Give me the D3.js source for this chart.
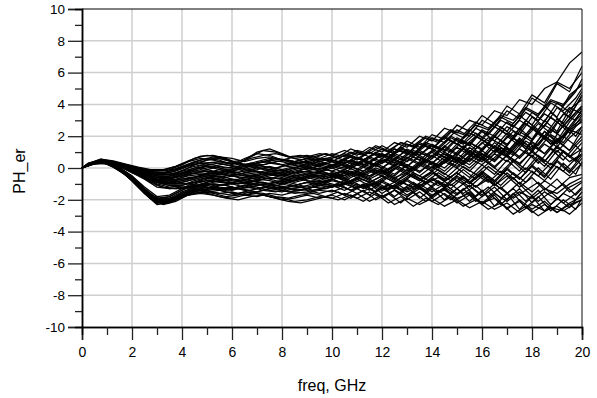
<!DOCTYPE html>
<html>
<head>
<meta charset="utf-8">
<script src="https://cdn.jsdelivr.net/npm/d3@7"></script>
<style>
  body { margin: 0; background: #fff; }
  text { font-family: "Liberation Sans", Arial, sans-serif; fill: #000; }
</style>
</head>
<body>
<svg id="chart" width="597" height="398"></svg>
<script>
// frequency points (GHz): two sweeps, the second one offset by a quarter step
const freq = d3.range(0, 20.01, 0.5);
const freqB = [0].concat(d3.range(0.25, 20, 0.5)).concat([20]);

// sweep A, upper bundle (shallow dip near 3 GHz)
const b1 = [0,0.35,0.4,0.3,0.1,-0.1,-0.2,-0.1,0.2,0.6,0.8,0.7,0.4,0.5,1.0,1.2,0.9,0.6,0.7,0.9,0.8,1.1,0.8,1.3,1.0,1.6,1.3,2.0,1.7,2.5,2.2,3.0,2.7,3.6,3.3,4.3,4.0,5.0,5.4,6.6,7.3];
const b2 = [0,0.3,0.35,0.2,0,-0.3,-0.4,-0.2,0.1,0.4,0.6,0.5,0.2,0.6,0.9,0.8,0.5,0.4,0.6,0.5,0.7,0.5,1.0,0.7,1.2,0.9,1.5,1.2,1.9,1.6,2.4,2.0,3.0,2.6,3.6,3.1,4.4,3.9,5.3,4.8,6.4];
const b3 = [0,0.4,0.45,0.25,-0.1,-0.4,-0.6,-0.5,-0.3,-0.1,0.2,0.3,0.1,-0.1,0.1,0.3,0.2,0,0.3,0.1,0.4,0.1,0.6,0.3,0.9,0.5,1.2,0.8,1.4,1.0,1.8,1.4,2.3,1.7,2.6,2.1,3.2,2.6,3.8,3.2,4.6];
const b4 = [0,0.3,0.3,0.15,-0.2,-0.5,-0.8,-0.9,-0.8,-0.6,-0.3,-0.1,-0.2,-0.4,-0.3,-0.1,-0.2,-0.4,-0.2,-0.3,0,-0.3,0.2,-0.1,0.5,0.1,0.7,0.3,1.0,0.5,1.3,0.8,1.6,1.0,2.0,1.4,2.5,1.8,2.9,2.2,3.3];
const b5 = [0,0.25,0.35,0.2,0,-0.2,-0.3,-0.4,-0.3,0,0.3,0.4,0.3,0.1,0.3,0.5,0.4,0.2,0.5,0.6,0.4,0.8,0.5,1.0,0.6,1.2,0.9,1.6,1.2,2.0,1.5,2.4,1.9,2.8,2.3,3.3,2.7,3.9,3.2,4.6,5.2];
const b6 = [0,0.35,0.3,0.1,-0.3,-0.6,-0.9,-1.0,-0.9,-0.7,-0.5,-0.4,-0.5,-0.7,-0.6,-0.4,-0.6,-0.8,-0.5,-0.7,-0.4,-0.7,-0.3,-0.6,-0.1,-0.5,0.2,-0.3,0.4,0,0.7,0.2,0.9,0.4,1.2,0.6,1.4,0.9,1.7,1.1,2.0];
const b7 = [0,0.3,0.4,0.3,0.05,-0.2,-0.5,-0.6,-0.5,-0.3,-0.1,0.1,0,-0.2,-0.1,0.1,-0.1,-0.3,0,-0.2,0.1,-0.1,0.3,0,0.5,0.2,0.6,0.2,0.8,0.3,0.9,0.4,1.1,0.5,1.3,0.7,1.6,0.9,1.8,1.1,2.4];
const b8 = [0,0.4,0.35,0.2,-0.1,-0.4,-0.7,-0.8,-0.7,-0.6,-0.4,-0.3,-0.5,-0.6,-0.5,-0.3,-0.4,-0.6,-0.4,-0.6,-0.3,-0.6,-0.2,-0.5,-0.2,-0.6,-0.3,-0.7,-0.2,-0.8,-0.3,-0.9,-0.4,-1.1,-0.5,-1.2,-0.6,-1.4,-0.7,-1.5,-0.9];
const b9 = [0,0.3,0.3,0.2,0,-0.3,-0.5,-0.5,-0.2,0.2,0.5,0.6,0.4,0.2,0,-0.1,0.1,0.3,0.2,0.4,0.2,0.5,0.3,0.7,0.4,0.9,0.6,1.1,0.7,1.4,0.9,1.6,1.2,2.0,1.5,2.3,1.8,2.7,2.2,3.1,3.9];
const b10 = [0,0.35,0.4,0.2,-0.2,-0.5,-0.9,-1.1,-1.1,-0.9,-0.8,-0.9,-1.0,-0.9,-0.7,-0.8,-1.0,-0.8,-0.6,-0.8,-0.5,-0.8,-0.4,-0.7,-0.3,-0.7,-0.1,-0.5,0.1,-0.4,0.3,-0.2,0.6,0,0.8,0.2,1.1,0.4,1.4,0.7,1.2];
const b11 = [0,0.25,0.3,0.1,-0.2,-0.6,-1.0,-1.2,-1.1,-0.8,-0.6,-0.4,-0.3,-0.5,-0.4,-0.2,-0.3,-0.1,0.1,-0.1,0.2,0,0.4,0.1,0.6,0.3,0.9,0.5,1.1,0.7,1.5,1.0,1.8,1.3,2.2,1.6,2.6,2.0,3.1,2.4,2.9];
const b12 = [0,0.4,0.45,0.3,0.1,-0.1,-0.3,-0.3,0,0.3,0.5,0.7,0.6,0.4,0.6,0.7,0.5,0.7,0.8,0.6,0.9,0.7,1.1,0.9,1.4,1.0,1.7,1.3,2.1,1.8,2.7,2.3,3.3,2.8,3.9,3.4,4.6,4.1,5.4,5.0,6.0];
const b13 = [0,0.3,0.35,0.15,-0.15,-0.5,-0.8,-0.9,-0.6,-0.3,-0.2,-0.3,-0.1,0.1,0.2,0,-0.2,0,-0.1,0.2,0,0.3,-0.1,0.4,0,0.6,0.1,0.8,0.3,1.0,0.5,1.3,0.7,1.6,1.0,1.9,1.2,2.3,1.6,2.6,3.6];
const b14 = [0,0.35,0.3,0.1,-0.2,-0.6,-1.1,-1.3,-1.2,-1.1,-1.0,-1.2,-1.3,-1.1,-1.0,-1.2,-1.3,-1.1,-0.9,-1.1,-0.8,-1.0,-0.6,-0.9,-0.5,-0.9,-0.4,-0.8,-0.3,-0.8,-0.3,-0.9,-0.2,-0.8,0,-0.7,0.1,-0.6,0.4,-0.3,0.6];
const b15 = [0,0.3,0.4,0.25,0,-0.3,-0.6,-0.7,-0.5,-0.2,0,0.2,0.3,0.2,0.4,0.6,0.5,0.3,0.4,0.2,0.5,0.3,0.7,0.4,0.9,0.6,1.1,0.8,1.5,1.1,1.9,1.5,2.4,2.0,2.9,2.4,3.5,2.9,4.1,3.5,4.8];
const b16 = [0,0.4,0.35,0.2,-0.1,-0.4,-0.8,-1.0,-1.0,-0.9,-0.7,-0.6,-0.8,-0.9,-0.8,-0.6,-0.7,-0.5,-0.3,-0.5,-0.3,-0.5,-0.2,-0.5,0,-0.4,0.2,-0.2,0.3,-0.2,0.5,0,0.7,0.1,0.8,0.3,1.0,0.4,1.3,0.7,1.6];
const b17 = [0,0.3,0.3,0.15,-0.1,-0.5,-0.9,-1.1,-1.2,-1.3,-1.4,-1.3,-1.2,-1.4,-1.5,-1.3,-1.2,-1.4,-1.3,-1.1,-1.2,-1.0,-1.3,-1.0,-1.4,-1.1,-1.5,-1.2,-1.7,-1.4,-1.9,-1.6,-2.2,-1.9,-2.5,-2.1,-2.8,-2.3,-2.8,-2.2,-1.8];
const b18 = [0,0.35,0.4,0.3,0.1,-0.2,-0.4,-0.4,-0.2,0,0.1,0,-0.2,0,0.3,0.4,0.2,0.4,0.6,0.4,0.6,0.9,0.6,1.0,0.7,1.2,0.9,1.5,1.2,1.9,1.5,2.2,1.8,2.6,2.1,3.0,2.5,3.4,2.9,3.8,3.4];
const b19 = [0,0.3,0.3,0.1,-0.3,-0.7,-1.2,-1.3,-1.3,-1.2,-1.0,-0.8,-0.7,-0.9,-1.1,-1.0,-0.8,-1.0,-1.2,-1.0,-1.1,-0.8,-1.2,-0.9,-1.3,-0.9,-1.4,-1.0,-1.5,-1.0,-1.6,-1.1,-1.8,-1.2,-2.0,-1.3,-2.2,-1.5,-2.0,-1.2,-0.8];
const b20 = [0,0.4,0.4,0.2,-0.1,-0.3,-0.5,-0.6,-0.4,-0.2,-0.2,-0.4,-0.5,-0.3,-0.2,-0.4,-0.5,-0.3,-0.2,0,-0.2,0.1,-0.2,0.3,0,0.5,0.1,0.7,0.3,0.9,0.4,1.1,0.6,1.4,0.8,1.7,1.0,2.0,1.3,2.4,2.1];
const b21 = [0,0.3,0.35,0.2,-0.2,-0.5,-0.7,-0.7,-0.4,-0.1,0.1,-0.1,-0.3,-0.2,0,-0.2,-0.4,-0.2,0,0.3,0.1,0.4,0.2,0.6,0.3,0.8,0.4,1.0,0.6,1.3,0.8,1.6,1.1,2.0,1.4,2.5,1.8,3.0,2.3,3.7,4.3];

// sweep A, lower bundle (deep dip near 3 GHz)
const a1 = [0,0.35,0.35,0,-0.6,-1.4,-2.0,-1.9,-1.5,-1.2,-1.1,-1.3,-1.4,-1.2,-1.0,-1.1,-1.3,-1.1,-0.9,-1.0,-0.7,-1.0,-0.6,-0.9,-0.5,-0.9,-0.3,-0.8,-0.2,-0.7,0,-0.6,0.2,-0.4,0.5,-0.2,0.8,0.1,1.1,0.4,0.9];
const a2 = [0,0.4,0.3,-0.1,-0.7,-1.5,-2.2,-2.1,-1.7,-1.4,-1.4,-1.6,-1.7,-1.5,-1.6,-1.8,-1.9,-2.1,-2.0,-1.8,-1.9,-1.6,-1.9,-1.5,-1.9,-1.4,-1.8,-1.3,-1.8,-1.2,-1.7,-1.1,-1.7,-1.0,-1.6,-0.9,-1.5,-0.8,-1.3,-0.6,-0.4];
const a3 = [0,0.3,0.3,-0.1,-0.8,-1.6,-2.3,-2.2,-1.8,-1.5,-1.3,-1.1,-1.0,-1.2,-1.3,-1.1,-0.9,-1.1,-1.3,-1.1,-1.2,-0.9,-1.3,-1.0,-1.6,-1.1,-1.7,-1.2,-1.9,-1.3,-2.0,-1.5,-2.3,-1.7,-2.6,-2.0,-2.6,-2.1,-2.8,-2.3,-2.0];
const a4 = [0,0.35,0.4,0.05,-0.5,-1.3,-1.9,-1.8,-1.4,-1.0,-0.8,-0.7,-0.9,-1.0,-0.8,-0.6,-0.7,-0.9,-0.7,-0.5,-0.6,-0.3,-0.6,-0.2,-0.5,0,-0.4,0.2,-0.2,0.4,0,0.6,0.2,0.9,0.4,1.2,0.7,1.5,1.0,1.9,2.6];
const a5 = [0,0.3,0.25,-0.15,-0.8,-1.6,-2.2,-2.0,-1.6,-1.3,-1.2,-1.4,-1.3,-1.1,-1.2,-1.4,-1.5,-1.3,-1.4,-1.6,-1.4,-1.7,-1.3,-1.7,-1.2,-1.8,-1.2,-1.9,-1.3,-2.0,-1.3,-2.1,-1.4,-2.4,-1.6,-2.6,-1.8,-2.7,-1.9,-2.5,-1.5];
const a6 = [0,0.4,0.35,0,-0.6,-1.3,-2.0,-2.0,-1.7,-1.3,-0.9,-0.6,-0.4,-0.5,-0.7,-0.5,-0.3,-0.5,-0.4,-0.2,-0.4,-0.1,-0.4,0,-0.3,0.2,-0.2,0.4,0,0.7,0.3,1.0,0.5,1.4,0.9,1.8,1.2,2.3,1.7,2.9,3.8];
const a7 = [0,0.35,0.3,-0.1,-0.7,-1.5,-2.1,-2.0,-1.6,-1.4,-1.5,-1.6,-1.5,-1.7,-1.8,-1.6,-1.7,-1.5,-1.6,-1.4,-1.5,-1.2,-1.6,-1.3,-1.8,-1.4,-2.0,-1.5,-2.1,-1.6,-2.2,-1.7,-2.2,-1.6,-2.1,-1.5,-1.9,-1.3,-1.6,-1.0,-0.6];
const a8 = [0,0.3,0.35,0,-0.5,-1.2,-1.8,-1.7,-1.3,-0.9,-0.6,-0.5,-0.7,-0.8,-0.6,-0.4,-0.5,-0.7,-0.5,-0.3,-0.5,-0.2,-0.5,-0.1,-0.4,0.1,-0.3,0.3,-0.1,0.5,0.1,0.8,0.4,1.1,0.7,1.6,1.1,2.0,1.5,2.5,3.1];
const a9 = [0,0.4,0.35,-0.05,-0.7,-1.5,-2.1,-2.1,-1.8,-1.6,-1.5,-1.4,-1.6,-1.7,-1.5,-1.3,-1.4,-1.6,-1.5,-1.3,-1.1,-1.4,-1.0,-1.4,-0.9,-1.3,-0.8,-1.3,-0.7,-1.2,-0.6,-1.2,-0.5,-1.1,-0.3,-1.0,-0.2,-0.8,0.1,-0.5,0.3];
const a10 = [0,0.3,0.3,-0.05,-0.6,-1.4,-2.0,-1.8,-1.4,-1.1,-1.0,-1.1,-0.9,-0.7,-0.9,-1.0,-0.8,-0.6,-0.8,-0.9,-0.7,-1.0,-0.7,-1.1,-0.8,-1.2,-0.7,-1.2,-0.6,-1.1,-0.5,-1.0,-0.3,-0.9,-0.1,-0.7,0.2,-0.5,0.5,-0.2,0.8];
const a11 = [0,0.35,0.3,-0.1,-0.75,-1.55,-2.2,-2.1,-1.7,-1.5,-1.6,-1.8,-1.9,-1.7,-1.6,-1.8,-2.0,-1.9,-1.7,-1.9,-1.7,-2.0,-1.6,-2.1,-1.7,-2.3,-1.9,-2.3,-1.9,-2.4,-2.0,-2.5,-2.1,-2.6,-2.2,-2.8,-2.3,-2.7,-2.4,-2.9,-2.2];

// sweep B (offset frequency points)
const c1 = [0,0.2,0.5,0.4,0.2,-0.1,-0.3,-0.35,-0.2,0.1,0.3,0.35,0.2,0.1,0.2,0.4,0.3,0.1,0.2,0.0,0.3,0.1,0.5,0.2,0.6,0.9,0.5,1.1,0.8,1.3,1.0,1.7,1.2,1.9,1.5,2.3,1.9,2.8,2.2,3.4,3.0,3.7];
const c2 = [0,0.15,0.45,0.3,0.0,-0.4,-0.8,-1.0,-1.0,-0.8,-0.6,-0.7,-0.9,-1.0,-0.8,-0.9,-1.1,-0.9,-0.7,-0.9,-0.8,-0.5,-0.9,-0.6,-1.0,-0.5,-0.9,-0.4,-1.0,-0.6,-1.1,-0.5,-1.2,-0.7,-1.3,-0.6,-1.4,-0.9,-1.6,-1.0,-1.7,-1.3];
const c3 = [0,0.25,0.55,0.45,0.25,0.05,-0.1,-0.1,0.1,0.4,0.6,0.5,0.3,0.3,0.6,0.8,0.9,0.7,0.8,0.6,0.9,0.7,1.2,0.9,1.4,1.1,1.6,1.4,2.0,1.7,2.4,2.1,2.9,2.5,3.3,3.0,3.8,3.4,4.3,4.0,4.9,5.3];
const c4 = [0,0.2,0.45,0.15,-0.35,-1.0,-1.8,-2.2,-2.0,-1.6,-1.3,-1.2,-1.3,-1.2,-1.0,-0.9,-1.1,-1.2,-1.0,-0.8,-0.9,-0.6,-1.0,-0.7,-1.1,-0.6,-1.0,-0.4,-0.9,-0.3,-0.8,-0.1,-0.7,0.1,-0.5,0.4,-0.3,0.6,0.0,1.0,0.4,1.3];
const c5 = [0,0.25,0.4,0.1,-0.4,-1.1,-1.9,-2.3,-2.1,-1.7,-1.5,-1.6,-1.8,-1.7,-1.5,-1.6,-1.8,-1.9,-1.7,-1.6,-1.8,-1.5,-1.9,-1.4,-2.0,-1.6,-2.2,-1.5,-2.1,-1.4,-2.0,-1.3,-2.1,-1.5,-2.3,-1.6,-2.5,-1.8,-2.7,-2.0,-2.6,-1.9];
const c6 = [0,0.2,0.5,0.35,0.1,-0.2,-0.5,-0.7,-0.6,-0.4,-0.3,-0.4,-0.2,0.0,-0.1,-0.3,-0.2,0.0,0.1,-0.1,0.0,0.3,0.0,0.4,0.1,0.5,0.2,0.7,0.3,0.9,0.4,1.2,0.6,1.5,0.9,1.9,1.2,2.2,1.5,2.7,2.0,2.6];
const c7 = [0,0.2,0.45,0.4,0.15,-0.1,-0.25,-0.3,-0.1,0.2,0.5,0.7,0.5,0.3,0.7,1.1,1.0,0.7,0.5,0.7,0.9,0.6,1.0,0.8,1.3,1.0,1.6,1.3,1.9,1.6,2.3,1.9,2.7,2.4,3.2,2.8,3.7,3.3,4.2,3.9,4.8,5.6];
const c8 = [0,0.15,0.4,0.25,-0.05,-0.4,-0.9,-1.2,-1.3,-1.2,-1.1,-1.0,-1.1,-1.3,-1.4,-1.2,-1.1,-1.3,-1.4,-1.2,-1.0,-1.2,-0.9,-1.3,-1.0,-1.4,-0.9,-1.2,-0.7,-1.1,-0.6,-1.0,-0.4,-0.9,-0.2,-0.7,0.0,-0.5,0.3,-0.2,0.6,0.1];
const c9 = [0,0.25,0.5,0.3,0.0,-0.3,-0.6,-0.8,-0.7,-0.5,-0.4,-0.5,-0.6,-0.4,-0.2,-0.3,-0.5,-0.4,-0.2,-0.3,-0.1,-0.3,0.1,-0.2,0.3,-0.1,0.4,0.0,0.5,0.1,0.7,0.2,0.8,0.3,1.0,0.4,1.1,0.3,1.2,0.5,1.4,1.0];
const c10 = [0,0.2,0.4,0.1,-0.4,-1.1,-1.7,-2.0,-1.8,-1.4,-1.0,-0.8,-0.9,-1.0,-0.9,-0.7,-0.6,-0.8,-0.7,-0.5,-0.4,-0.6,-0.3,-0.5,-0.1,-0.4,0.2,-0.1,0.5,0.2,0.8,0.4,1.1,0.7,1.5,1.0,1.9,1.4,2.4,1.9,3.0,3.4];
const c11 = [0,0.3,0.55,0.4,0.2,0.0,-0.15,-0.2,-0.05,0.15,0.3,0.2,0.0,0.1,0.3,0.2,0.4,0.5,0.3,0.5,0.6,0.4,0.8,0.5,1.0,0.7,1.3,0.9,1.5,1.2,1.9,1.5,2.2,1.7,2.6,2.0,3.0,2.4,3.5,2.8,3.9,4.5];
const c12 = [0,0.2,0.45,0.3,0.0,-0.35,-0.75,-0.95,-1.0,-1.0,-1.1,-1.3,-1.4,-1.3,-1.2,-1.4,-1.5,-1.3,-1.2,-1.4,-1.3,-1.1,-1.4,-1.0,-1.5,-1.1,-1.6,-1.0,-1.5,-0.9,-1.6,-1.0,-1.8,-1.2,-1.9,-1.3,-2.1,-1.4,-2.3,-1.6,-2.0,-1.5];
const c13 = [0,0.25,0.45,0.15,-0.3,-0.95,-1.7,-2.1,-1.9,-1.6,-1.4,-1.3,-1.5,-1.6,-1.4,-1.2,-1.3,-1.5,-1.4,-1.2,-1.3,-1.0,-1.4,-1.1,-1.5,-1.0,-1.4,-0.9,-1.4,-0.8,-1.3,-0.6,-1.2,-0.5,-1.1,-0.3,-0.9,0.0,-0.7,0.3,-0.4,0.4];
const c14 = [0,0.25,0.5,0.35,0.1,-0.15,-0.4,-0.45,-0.3,0.0,0.2,0.1,-0.1,0.0,0.2,0.1,0.0,0.2,0.4,0.3,0.5,0.3,0.7,0.5,0.9,0.6,1.2,0.9,1.6,1.3,2.0,1.6,2.5,2.1,3.0,2.6,3.5,3.0,4.1,3.6,4.4,5.0];
const c15 = [0,0.2,0.5,0.3,0.05,-0.3,-0.65,-0.85,-0.8,-0.6,-0.5,-0.6,-0.8,-0.7,-0.5,-0.6,-0.8,-0.9,-0.7,-0.5,-0.7,-0.4,-0.8,-0.5,-0.9,-0.4,-0.8,-0.3,-0.7,-0.1,-0.6,0.1,-0.4,0.3,-0.3,0.5,-0.1,0.8,0.2,1.1,0.5,0.9];
const c16 = [0,0.2,0.4,0.05,-0.45,-1.2,-1.95,-2.25,-2.0,-1.7,-1.6,-1.7,-1.9,-2.0,-1.8,-1.7,-1.9,-2.1,-2.2,-2.0,-1.8,-2.0,-1.7,-2.1,-1.6,-2.2,-1.8,-2.4,-1.9,-2.3,-1.8,-2.4,-2.0,-2.6,-2.2,-2.9,-2.4,-3.0,-2.5,-2.7,-2.2,-2.0];
const c17 = [0,0.3,0.5,0.35,0.1,-0.25,-0.55,-0.6,-0.45,-0.2,0.0,-0.2,-0.3,-0.1,0.1,0.0,-0.2,-0.1,0.1,0.2,0.0,0.3,0.1,0.5,0.2,0.6,0.3,0.9,0.4,1.1,0.6,1.4,0.8,1.6,1.0,1.9,1.2,2.3,1.5,2.0,1.4,1.8];
const c18 = [0,0.25,0.45,0.3,0.05,-0.3,-0.7,-0.9,-0.9,-0.7,-0.5,-0.3,-0.2,-0.3,-0.5,-0.4,-0.3,-0.5,-0.6,-0.4,-0.3,-0.5,-0.2,-0.4,0.0,-0.3,0.2,-0.2,0.4,0.0,0.7,0.3,1.0,0.5,1.3,0.8,1.7,1.2,2.1,1.6,2.6,3.0];
const c19 = [0,0.2,0.45,0.1,-0.4,-1.05,-1.8,-2.15,-1.95,-1.55,-1.2,-1.0,-1.1,-1.3,-1.2,-1.0,-0.9,-1.1,-1.2,-1.0,-0.9,-1.1,-0.8,-1.2,-0.9,-1.3,-0.8,-1.3,-0.9,-1.5,-1.0,-1.6,-1.1,-1.8,-1.2,-1.9,-1.4,-2.1,-1.5,-2.2,-1.6,-1.2];
const c20 = [0,0.3,0.5,0.4,0.2,0.0,-0.2,-0.15,0.1,0.45,0.75,0.8,0.6,0.3,0.2,0.4,0.6,0.5,0.3,0.4,0.6,0.4,0.7,0.5,0.9,0.7,1.1,0.8,1.4,1.0,1.7,1.3,2.0,1.5,2.4,1.8,2.8,2.2,3.2,2.6,3.5,3.9];

const sweepA = [b1,b2,b3,b4,b5,b6,b7,b8,b9,b10,b11,b12,b13,b14,b15,b16,b17,b18,b19,b20,b21,
                a1,a2,a3,a4,a5,a6,a7,a8,a9,a10,a11];
const sweepB = [c1,c2,c3,c4,c5,c6,c7,c8,c9,c10,c11,c12,c13,c14,c15,c16,c17,c18,c19,c20];

const xMajor = [0,2,4,6,8,10,12,14,16,18,20];
const xMinor = [1,3,5,7,9,11,13,15,17,19];
const yMajor = [-10,-8,-6,-4,-2,0,2,4,6,8,10];
const yMinor = [-9,-7,-5,-3,-1,1,3,5,7,9];

const margin = { left: 82, right: 15, top: 9, bottom: 71 };
const width = 597, height = 398;
const svg = d3.select("#chart");

const x = d3.scaleLinear().domain([0, 20]).range([margin.left, width - margin.right]);
const y = d3.scaleLinear().domain([-10, 10]).range([height - margin.bottom, margin.top]);

// grid
svg.append("g")
    .selectAll("line")
    .data(xMajor.slice(1, -1))
    .join("line")
    .attr("x1", d => x(d)).attr("x2", d => x(d))
    .attr("y1", y(-10)).attr("y2", y(10))
    .attr("stroke", "#cfcfcf").attr("stroke-width", 1.5);
svg.append("g")
    .selectAll("line")
    .data(yMajor.slice(1, -1))
    .join("line")
    .attr("x1", x(0)).attr("x2", x(20))
    .attr("y1", d => y(d)).attr("y2", d => y(d))
    .attr("stroke", "#cfcfcf").attr("stroke-width", 1.5);

// traces
function drawSweep(f, data) {
    const line = d3.line()
        .x((d, i) => x(f[i]))
        .y(d => y(d));
    svg.append("g")
        .selectAll("path")
        .data(data)
        .join("path")
        .attr("d", line)
        .attr("fill", "none")
        .attr("stroke", "#000")
        .attr("stroke-width", 1.25);
}
drawSweep(freq, sweepA);
drawSweep(freqB, sweepB);

// frame top / right
svg.append("line").attr("x1", x(0)).attr("x2", x(20)).attr("y1", y(10)).attr("y2", y(10))
    .attr("stroke", "#000").attr("stroke-width", 1.2);
svg.append("line").attr("x1", x(20)).attr("x2", x(20)).attr("y1", y(10)).attr("y2", y(-10))
    .attr("stroke", "#333").attr("stroke-width", 1.2);

// axes
const fmt = d => String(d);
const yAxis = svg.append("g")
    .attr("transform", `translate(${x(0)},0)`)
    .call(d3.axisLeft(y).tickValues(yMajor).tickSize(14).tickPadding(3).tickFormat(fmt));
svg.append("g")
    .attr("transform", `translate(${x(0)},0)`)
    .call(d3.axisLeft(y).tickValues(yMinor).tickSize(7).tickFormat(""));
const xAxis = svg.append("g")
    .attr("transform", `translate(0,${y(-10)})`)
    .call(d3.axisBottom(x).tickValues(xMajor).tickSize(13).tickPadding(7).tickFormat(fmt));
svg.append("g")
    .attr("transform", `translate(0,${y(-10)})`)
    .call(d3.axisBottom(x).tickValues(xMinor).tickSize(8).tickFormat(""));

svg.selectAll(".domain").attr("stroke", "#000").attr("stroke-width", 1.5);
svg.selectAll(".tick line").attr("stroke", "#222").attr("stroke-width", 1.3);
yAxis.selectAll("text").style("font-size", "13.5px").attr("fill", "#000");
xAxis.selectAll("text").style("font-size", "14px").attr("fill", "#000");
svg.selectAll(".tick text").style("font-family", "'Liberation Sans', Arial, sans-serif");

// axis titles
svg.append("text")
    .attr("x", x(10)).attr("y", 391)
    .attr("text-anchor", "middle")
    .style("font-size", "16px")
    .text("freq, GHz");
svg.append("text")
    .attr("transform", `translate(25,${y(0) + 3}) rotate(-90)`)
    .attr("text-anchor", "middle")
    .style("font-size", "16px")
    .text("PH_er");
</script>
</body>
</html>
